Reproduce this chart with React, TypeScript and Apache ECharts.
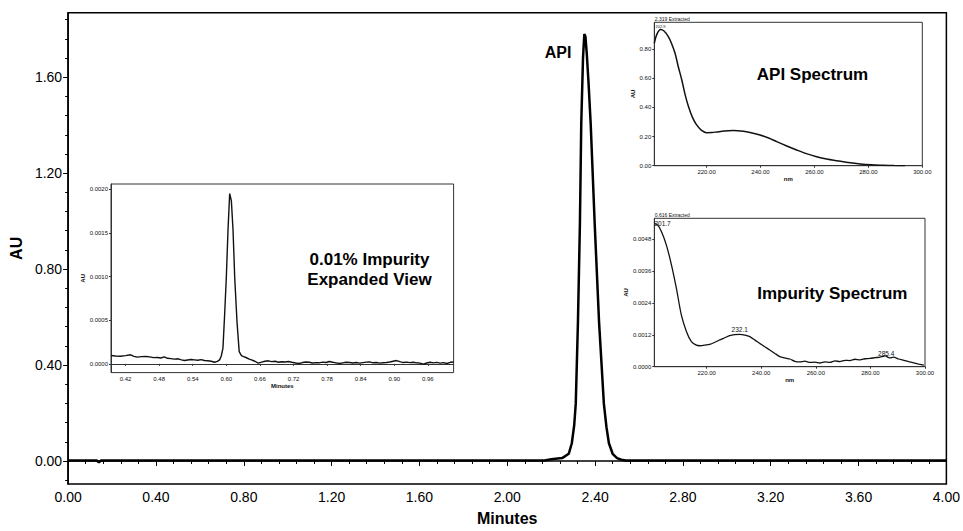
import React, { useEffect, useRef } from "react";
import * as echarts from "echarts";

// ---- Main chromatogram ----
const mainTime = [0, 0.13, 0.14, 0.15, 2.17, 2.2, 2.25, 2.28, 2.294, 2.305, 2.312, 2.322, 2.331, 2.337, 2.345, 2.351, 2.356, 2.362, 2.37, 2.38, 2.398, 2.418, 2.44, 2.452, 2.463, 2.48, 2.5, 2.52, 2.54, 4.0];
const mainAU = [0.002, 0.002, -0.006, 0.002, 0.002, 0.007, 0.012, 0.03, 0.074, 0.15, 0.239, 0.581, 0.994, 1.406, 1.68, 1.78, 1.77, 1.7, 1.58, 1.406, 0.994, 0.581, 0.239, 0.14, 0.074, 0.03, 0.012, 0.005, 0.002, 0.002];
const mainYTicks = [0, 0.4, 0.8, 1.2, 1.6];
const mainYMinorTicks = [-0.08, 0.08, 0.16, 0.24, 0.32, 0.48, 0.56, 0.64, 0.72, 0.88, 0.96, 1.04, 1.12, 1.28, 1.36, 1.44, 1.52, 1.68, 1.76, 1.84];

// ---- Impurity expanded view ----
const impTime = [0.394, 0.402, 0.411, 0.42, 0.429, 0.435, 0.441, 0.448, 0.456, 0.463, 0.47, 0.477, 0.483, 0.489, 0.495, 0.501, 0.507, 0.514, 0.52, 0.525, 0.531, 0.537, 0.543, 0.549, 0.555, 0.561, 0.567, 0.573, 0.579, 0.584, 0.588, 0.591, 0.594, 0.597, 0.6, 0.603, 0.606, 0.609, 0.612, 0.615, 0.619, 0.623, 0.627, 0.63, 0.636, 0.641, 0.645, 0.651, 0.657, 0.663, 0.669, 0.675, 0.681, 0.687, 0.693, 0.699, 0.705, 0.711, 0.717, 0.724, 0.73, 0.736, 0.742, 0.748, 0.754, 0.76, 0.766, 0.772, 0.778, 0.784, 0.79, 0.796, 0.802, 0.808, 0.814, 0.82, 0.826, 0.832, 0.838, 0.844, 0.85, 0.856, 0.862, 0.868, 0.874, 0.88, 0.886, 0.892, 0.898, 0.904, 0.91, 0.916, 0.922, 0.928, 0.934, 0.94, 0.946, 0.952, 0.958, 0.964, 0.97, 0.976, 0.982, 0.988, 0.994, 1.0, 1.006];
const impAU = [0.000096, 0.00009, 0.000088, 0.000094, 0.000104, 0.000086, 0.000077, 0.000083, 0.000085, 0.00008, 0.000071, 0.000073, 0.000067, 0.000081, 0.000064, 0.00006, 0.000054, 0.000058, 0.000046, 0.000038, 0.000044, 0.00005, 0.000046, 0.000042, 0.000048, 0.000038, 0.000035, 0.00003, 0.000019, 0.000028, 0.000046, 0.00009, 0.00018, 0.000565, 0.00099, 0.00153, 0.00195, 0.00187, 0.00153, 0.00099, 0.00049, 0.00014, 0.000095, 0.000085, 0.00007, 0.000055, 0.000046, 0.00003, 0.000008, 0.00002, 0.00003, 0.000035, 0.000026, 0.00003, 0.000019, 0.000025, 0.000022, 0.000027, 0.000018, 0.00001, 0.000004, 0.000015, 0.000022, 0.000019, 0.00001, 0.000014, 0.000012, 0.00002, 0.000016, 0.000027, 0.000018, 0.000012, 0.000004, 0.000012, 0.000018, 0.000015, 0.00001, 0.000016, 0.000008, 0.000014, 0.00002, 0.000023, 0.000012, 0.000016, 0.000008, 0.000013, 0.000015, 0.000022, 0.00003, 0.000038, 0.000026, 0.000015, 0.00002, 0.000014, 0.000019, 0.000012, 0.000008, -0.000004, 0.00001, 0.000019, 0.000012, 0.000017, 0.000008, 0.000014, 0.000004, 0.000018, 0.000022];
const impXTicks = [0.42, 0.48, 0.54, 0.6, 0.66, 0.72, 0.78, 0.84, 0.9, 0.96];
const impYTicks = [0, 0.0005, 0.001, 0.0015, 0.002];

// ---- API spectrum ----
const apiNm = [200.6, 201.5, 202.9, 204.2, 205.8, 207.0, 208.3, 209.5, 210.8, 212.0, 213.3, 214.8, 216.3, 218.0, 220.0, 222.0, 223.8, 226.5, 229.9, 233.6, 236.5, 239.8, 243.0, 246.0, 249.5, 253.4, 257.0, 260.8, 264.5, 268.3, 272.5, 276.9, 281.0, 285.5, 289.5, 293.6];
const apiAU = [0.84, 0.9, 0.935, 0.925, 0.887, 0.84, 0.772, 0.68, 0.589, 0.49, 0.405, 0.33, 0.28, 0.245, 0.227, 0.228, 0.232, 0.238, 0.241, 0.236, 0.226, 0.211, 0.19, 0.165, 0.137, 0.108, 0.083, 0.062, 0.046, 0.034, 0.022, 0.012, 0.006, 0.003, 0.001, 0.0];
const apiYTicks = [0, 0.2, 0.4, 0.6, 0.8];
const specXTicks = [220, 240, 260, 280, 300];

// ---- Impurity spectrum ----
const impSpecNm = [200.8, 202.0, 203.4, 205.2, 207.1, 208.9, 210.7, 212.6, 214.4, 216.0, 217.5, 219.3, 221.1, 223.0, 224.8, 226.6, 228.4, 230.2, 232.1, 234.0, 235.8, 237.6, 239.4, 241.3, 243.1, 245.0, 246.8, 248.6, 250.5, 252.3, 254.1, 256.0, 257.8, 259.6, 261.5, 263.3, 265.2, 267.0, 268.8, 270.7, 272.5, 274.3, 276.2, 278.0, 279.9, 281.7, 283.5, 285.4, 287.0, 288.5, 290.3, 292.2, 294.0, 295.9, 297.7, 299.6];
const impSpecAU = [0.0054, 0.00534, 0.00509, 0.00459, 0.00383, 0.00295, 0.00195, 0.00132, 0.00094, 0.00082, 0.00079, 0.00081, 0.00084, 0.00092, 0.00101, 0.00109, 0.00117, 0.00121, 0.00122, 0.00119, 0.00113, 0.00101, 0.00088, 0.00075, 0.00063, 0.0005, 0.00038, 0.00033, 0.00029, 0.0002, 0.00018, 0.00021, 0.00016, 0.00017, 0.00014, 0.00018, 0.00016, 0.00022, 0.00019, 0.00024, 0.00023, 0.00028, 0.00026, 0.0003, 0.00031, 0.00034, 0.00036, 0.00041, 0.00033, 0.00036, 0.00029, 0.00024, 0.00019, 0.00014, 0.0001, 0.00006];
const impSpecYTicks = [0, 0.0012, 0.0024, 0.0036, 0.0048];

const FONT = "'Liberation Sans', Arial, sans-serif";

function pairs(xs: number[], ys: number[]) {
  return xs.map((x, i) => [x, ys[i]]);
}

function insetX(gridIndex: number, min: number, max: number, ticks: number[], digits: number, name: string, nameGap: number) {
  return {
    gridIndex,
    type: "value",
    min,
    max,
    axisLine: { show: true, lineStyle: { color: "#333", width: 1 } },
    axisTick: { show: true, customValues: ticks, length: 2, lineStyle: { color: "#333" } },
    axisLabel: { customValues: ticks, formatter: (v: number) => v.toFixed(digits), fontSize: 6, color: "#111", margin: 3, fontFamily: FONT },
    splitLine: { show: false },
    name,
    nameLocation: "middle",
    nameGap,
    nameTextStyle: { fontSize: 6, fontWeight: "bold", color: "#111", fontFamily: FONT },
  };
}

function insetY(gridIndex: number, min: number, max: number, ticks: number[], digits: number, nameGap: number) {
  return {
    gridIndex,
    type: "value",
    min,
    max,
    axisLine: { show: true, lineStyle: { color: "#333", width: 1 } },
    axisTick: { show: true, customValues: ticks, length: 2, lineStyle: { color: "#333" } },
    axisLabel: { customValues: ticks, formatter: (v: number) => v.toFixed(digits), fontSize: 6, color: "#111", margin: 3, fontFamily: FONT },
    splitLine: { show: false },
    name: "AU",
    nameLocation: "middle",
    nameGap,
    nameRotate: 90,
    nameTextStyle: { fontSize: 6, fontWeight: "bold", color: "#111", fontFamily: FONT },
  };
}

export default function App() {
  const ref = useRef<HTMLDivElement>(null);
  useEffect(() => {
    if (!ref.current) return;
    const chart = echarts.init(ref.current, null, { renderer: "svg" });
    const insetGrid = { show: true, borderColor: "#333", borderWidth: 1, backgroundColor: "#fff", containLabel: false };
    chart.setOption({
      animation: false,
      backgroundColor: "#fff",
      textStyle: { fontFamily: FONT },
      grid: [
        { left: 67.5, top: 12.7, right: 13.5, bottom: 41.7, show: true, borderColor: "#000", borderWidth: 1.5, containLabel: false },
        { left: 111, top: 184, width: 342.6, height: 188.6, ...insetGrid },
        { left: 654.3, top: 22.3, width: 268, height: 143.4, ...insetGrid },
        { left: 654.3, top: 218.3, width: 270.7, height: 148.4, ...insetGrid },
      ],
      xAxis: [
        {
          gridIndex: 0,
          type: "value",
          min: 0,
          max: 4,
          interval: 0.4,
          axisLine: { show: true, lineStyle: { color: "#000", width: 1.5 } },
          axisTick: { show: true, length: 5, lineStyle: { color: "#000", width: 1 } },
          minorTick: { show: true, splitNumber: 5, length: 3, lineStyle: { color: "#000", width: 1 } },
          axisLabel: { formatter: (v: number) => v.toFixed(2), fontSize: 14, color: "#000", margin: 6, fontFamily: FONT },
          splitLine: { show: false },
          minorSplitLine: { show: false },
          name: "Minutes",
          nameLocation: "middle",
          nameGap: 26,
          nameTextStyle: { fontSize: 16, fontWeight: "bold", color: "#000", fontFamily: FONT },
        },
        insetX(1, 0.394, 1.006, impXTicks, 2, "Minutes", 9),
        insetX(2, 200.6, 300, specXTicks, 2, "nm", 8),
        insetX(3, 200.8, 300, specXTicks, 2, "nm", 8),
      ],
      yAxis: [
        {
          gridIndex: 0,
          type: "value",
          min: -0.096,
          max: 1.869,
          axisLine: { show: true, lineStyle: { color: "#000", width: 1.5 } },
          axisTick: { show: true, customValues: mainYTicks, length: 5, lineStyle: { color: "#000", width: 1 } },
          axisLabel: { customValues: mainYTicks, formatter: (v: number) => v.toFixed(2), fontSize: 14, color: "#000", margin: 6, fontFamily: FONT },
          splitLine: { show: false },
          name: "AU",
          nameLocation: "middle",
          nameGap: 38,
          nameRotate: 90,
          nameTextStyle: { fontSize: 16, fontWeight: "bold", color: "#000", fontFamily: FONT },
        },
        {
          gridIndex: 0,
          type: "value",
          position: "left",
          min: -0.096,
          max: 1.869,
          axisLine: { show: false },
          axisTick: { show: true, customValues: mainYMinorTicks, length: 3, lineStyle: { color: "#000", width: 1 } },
          axisLabel: { show: false },
          splitLine: { show: false },
        },
        insetY(1, -0.0001, 0.00206, impYTicks, 4, 21),
        insetY(2, 0, 0.985, apiYTicks, 2, 14),
        insetY(3, 0, 0.00559, impSpecYTicks, 4, 18),
      ],
      series: [
        {
          type: "line",
          xAxisIndex: 0,
          yAxisIndex: 0,
          data: pairs(mainTime, mainAU),
          showSymbol: false,
          lineStyle: { color: "#000", width: 2.5 },
          z: 3,
        },
        {
          type: "line",
          xAxisIndex: 1,
          yAxisIndex: 2,
          data: pairs(impTime, impAU),
          showSymbol: false,
          lineStyle: { color: "#111", width: 1.4 },
          z: 5,
        },
        {
          type: "line",
          xAxisIndex: 2,
          yAxisIndex: 3,
          data: pairs(apiNm, apiAU),
          showSymbol: false,
          smooth: 0.3,
          lineStyle: { color: "#111", width: 1.5 },
          z: 5,
          markPoint: {
            symbol: "circle",
            symbolSize: 0,
            label: { show: true, position: "top", fontSize: 4, color: "#111", distance: 1 },
            data: [{ coord: [202.9, 0.935], value: 202.9, label: { formatter: "202.9" } }],
          },
        },
        {
          type: "line",
          xAxisIndex: 3,
          yAxisIndex: 4,
          data: pairs(impSpecNm, impSpecAU),
          showSymbol: false,
          smooth: 0.2,
          lineStyle: { color: "#111", width: 1.3 },
          z: 5,
          markPoint: {
            symbol: "circle",
            symbolSize: 0,
            label: { show: true, position: "top", fontSize: 6.5, color: "#111", distance: 1 },
            data: [
              { coord: [202.0, 0.00534], value: 201.7, label: { formatter: "201.7", offset: [5, 3] } },
              { coord: [232.1, 0.00122], value: 232.1, label: { formatter: "232.1" } },
              { coord: [285.4, 0.00041], value: 285.4, label: { formatter: "285.4", offset: [1, 2] } },
            ],
          },
        },
      ],
      graphic: [
        { type: "text", x: 558, y: 52, z: 10, style: { text: "API", font: `bold 16px ${FONT}`, fill: "#000", align: "center", verticalAlign: "middle" } },
        { type: "text", x: 369.5, y: 269, z: 10, style: { text: "0.01% Impurity\nExpanded View", font: `bold 17px ${FONT}`, fill: "#000", align: "center", verticalAlign: "middle", lineHeight: 20 } },
        { type: "text", x: 812.5, y: 74, z: 10, style: { text: "API Spectrum", font: `bold 17px ${FONT}`, fill: "#000", align: "center", verticalAlign: "middle" } },
        { type: "text", x: 832.3, y: 293.3, z: 10, style: { text: "Impurity Spectrum", font: `bold 17px ${FONT}`, fill: "#000", align: "center", verticalAlign: "middle" } },
        { type: "text", x: 654.8, y: 21.8, z: 10, style: { text: "2.319 Extracted", font: `5px ${FONT}`, fill: "#111", align: "left", verticalAlign: "bottom" } },
        { type: "text", x: 654.8, y: 217.8, z: 10, style: { text: "0.616 Extracted", font: `5px ${FONT}`, fill: "#111", align: "left", verticalAlign: "bottom" } },
      ],
    });
    return () => chart.dispose();
  }, []);
  return <div ref={ref} style={{ position: "absolute", left: 0, top: 0, width: 963, height: 531 }} />;
}
